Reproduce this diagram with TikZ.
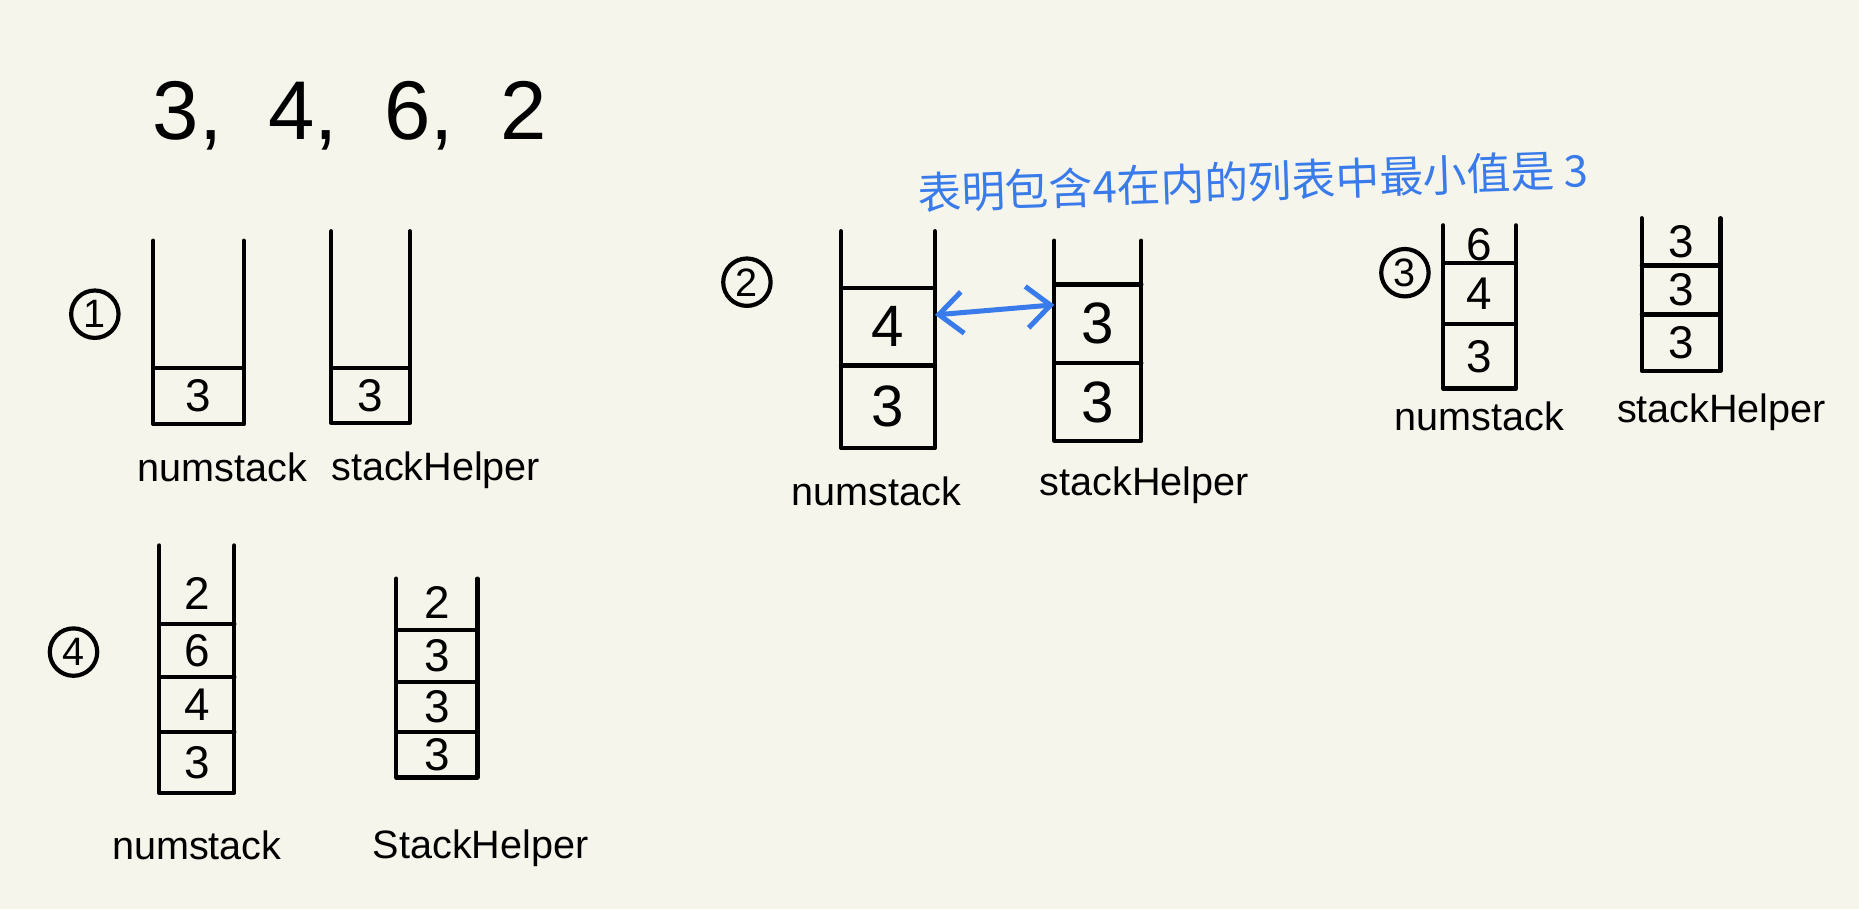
\documentclass[tikz,border=0pt]{standalone}
\usepackage{fontspec}
\setmainfont{Liberation Sans}
\newfontfamily\notefont{Noto Sans CJK SC}
\usepackage{tikz}
\usetikzlibrary{calc,positioning,arrows.meta}
\definecolor{paper}{RGB}{245,245,235}
\definecolor{noteblue}{RGB}{58,123,235}
\tikzset{
  wall/.style={line width=1pt,line cap=round,line join=round},
  cell/.style args={#1,#2}{
  rectangle,
  inner sep=0pt,
  minimum width=#1 cm,
  minimum height=#2 cm,
  },
  stacklabel/.style={inner sep=1pt,font=\fontsize{9.5}{11}\selectfont},
  stepmark/.style={circle,draw,line width=1pt,inner sep=0pt,minimum size=4mm,font=\fontsize{9.5}{10}\selectfont},
  note/.style={text=noteblue,font=\notefont\fontsize{10.5}{12}\selectfont},
  link/.style={draw=noteblue,line width=1.2pt,{Straight Barb[length=2mm,width=3.5mm]}-{Straight Barb[length=2mm,width=3.5mm]}}
}

\begin{document}
\begin{tikzpicture}
    \fill[paper] (0,0) rectangle (15.68,-7.67);
    \useasboundingbox (0,0) rectangle (15.68,-7.67);
    \node[font=\fontsize{20}{22}\selectfont] (seq) at (2.95,-0.98) {3,\ \ 4,\ \ 6,\ \ 2};
    \node[note,rotate=2] (hint) at (10.57,-1.53) {表明包含4在内的列表中最小值是 3};

    % step 1
    \node[stepmark] (s1) at (0.80,-2.65) {1};
    \node[cell={0.75,0.46},font=\fontsize{11}{13}\selectfont] (n1a) at (1.675,-3.34) {3};
    \coordinate (n1top) at (1.675,-2.03);
    \draw[wall] (n1top -| n1a.west) -- (n1a.south west) -- (n1a.south east) -- (n1top -| n1a.east);
    \draw[wall] (n1a.north west) -- (n1a.north east);
    \node[stacklabel,below=2mm of n1a,xshift=2mm] (n1lab) {numstack};
    \node[cell={0.65,0.45},font=\fontsize{11}{13}\selectfont] (h1a) at (3.125,-3.335) {3};
    \coordinate (h1top) at (3.125,-1.95);
    \draw[wall] (h1top -| h1a.west) -- (h1a.south west) -- (h1a.south east) -- (h1top -| h1a.east);
    \draw[wall] (h1a.north west) -- (h1a.north east);
    \node[stacklabel,below=2mm of h1a,xshift=5.5mm] (h1lab) {stackHelper};

    % step 2
    \node[stepmark] (s2) at (6.30,-2.38) {2};
    \node[cell={0.78,0.68},font=\fontsize{14}{16}\selectfont] (n2a) at (7.49,-3.43) {3};
    \node[cell={0.78,0.64},font=\fontsize{14}{16}\selectfont,above=0pt of n2a] (n2b) {4};
    \coordinate (n2top) at (7.49,-1.95);
    \draw[wall] (n2top -| n2a.west) -- (n2a.south west) -- (n2a.south east) -- (n2top -| n2a.east);
    \draw[wall] (n2a.north west) -- (n2a.north east);
    \draw[wall] (n2b.north west) -- (n2b.north east);
    \node[stacklabel,below=2mm of n2a,xshift=-1mm] (n2lab) {numstack};
    \node[cell={0.72,0.64},font=\fontsize{14}{16}\selectfont] (h2a) at (9.26,-3.39) {3};
    \node[cell={0.72,0.65},font=\fontsize{14}{16}\selectfont,above=0pt of h2a] (h2b) {3};
    \coordinate (h2top) at (9.26,-2.03);
    \draw[wall] (h2top -| h2a.west) -- (h2a.south west) -- (h2a.south east) -- (h2top -| h2a.east);
    \draw[wall] (h2a.north west) -- (h2a.north east);
    \draw[wall] (h2b.north west) -- (h2b.north east);
    \node[stacklabel,below=1.8mm of h2a,xshift=3.9mm] (h2lab) {stackHelper};
    \draw[link] ([yshift=1mm]n2b.east) -- ([yshift=1.6mm]h2b.west);

    % step 3
    \node[stepmark] (s3) at (11.85,-2.30) {3};
    \node[cell={0.60,0.53},font=\fontsize{11}{13}\selectfont] (n3a) at (12.48,-3.005) {3};
    \node[cell={0.60,0.50},font=\fontsize{11}{13}\selectfont,above=0pt of n3a] (n3b) {4};
    \node[cell={0.60,0.30},font=\fontsize{11}{13}\selectfont,above=0pt of n3b] (n3c) {6};
    \coordinate (n3top) at (12.48,-1.90);
    \draw[wall] (n3top -| n3a.west) -- (n3a.south west) -- (n3a.south east) -- (n3top -| n3a.east);
    \draw[wall] (n3a.north west) -- (n3a.north east);
    \draw[wall] (n3b.north west) -- (n3b.north east);
    \node[stacklabel,below=0.7mm of n3a] (n3lab) {numstack};
    \node[cell={0.65,0.46},font=\fontsize{11}{13}\selectfont] (h3a) at (14.18,-2.89) {3};
    \node[cell={0.65,0.40},font=\fontsize{11}{13}\selectfont,above=0pt of h3a] (h3b) {3};
    \node[cell={0.65,0.38},font=\fontsize{11}{13}\selectfont,above=0pt of h3b] (h3c) {3};
    \coordinate (h3top) at (14.18,-1.84);
    \draw[wall] (h3top -| h3a.west) -- (h3a.south west) -- (h3a.south east) -- (h3top -| h3a.east);
    \draw[wall] (h3a.north west) -- (h3a.north east);
    \draw[wall] (h3b.north west) -- (h3b.north east);
    \node[stacklabel,below=1.5mm of h3a,xshift=3.4mm] (h3lab) {stackHelper};

    % step 4
    \node[stepmark] (s4) at (0.62,-5.50) {4};
    \node[cell={0.62,0.50},font=\fontsize{11}{13}\selectfont] (n4a) at (1.66,-6.43) {3};
    \node[cell={0.62,0.45},font=\fontsize{11}{13}\selectfont,above=0pt of n4a] (n4b) {4};
    \node[cell={0.62,0.43},font=\fontsize{11}{13}\selectfont,above=0pt of n4b] (n4c) {6};
    \node[cell={0.62,0.50},font=\fontsize{11}{13}\selectfont,above=0pt of n4c] (n4d) {2};
    \coordinate (n4top) at (1.66,-4.60);
    \draw[wall] (n4top -| n4a.west) -- (n4a.south west) -- (n4a.south east) -- (n4top -| n4a.east);
    \draw[wall] (n4a.north west) -- (n4a.north east);
    \draw[wall] (n4b.north west) -- (n4b.north east);
    \draw[wall] (n4c.north west) -- (n4c.north east);
    \node[stacklabel,below=2.8mm of n4a] (n4lab) {numstack};
    \node[cell={0.67,0.37},font=\fontsize{11}{13}\selectfont] (h4a) at (3.685,-6.365) {3};
    \node[cell={0.67,0.41},font=\fontsize{11}{13}\selectfont,above=0pt of h4a] (h4b) {3};
    \node[cell={0.67,0.42},font=\fontsize{11}{13}\selectfont,above=0pt of h4b] (h4c) {3};
    \node[cell={0.67,0.45},font=\fontsize{11}{13}\selectfont,above=0pt of h4c] (h4d) {2};
    \coordinate (h4top) at (3.685,-4.88);
    \draw[wall] (h4top -| h4a.west) -- (h4a.south west) -- (h4a.south east) -- (h4top -| h4a.east);
    \draw[wall] (h4a.north west) -- (h4a.north east);
    \draw[wall] (h4b.north west) -- (h4b.north east);
    \draw[wall] (h4c.north west) -- (h4c.north east);
    \node[stacklabel,below=4mm of h4a,xshift=3.7mm] (h4lab) {StackHelper};
\end{tikzpicture}
\end{document}
